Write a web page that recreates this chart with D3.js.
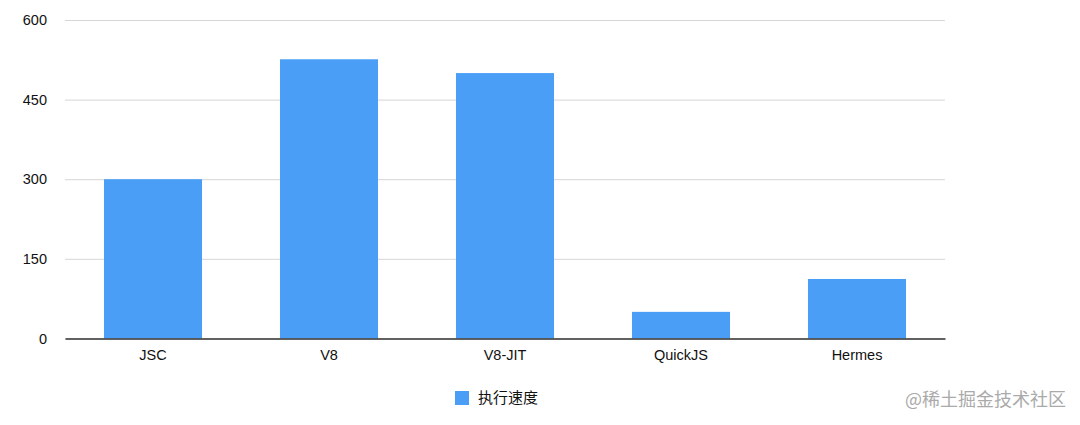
<!DOCTYPE html>
<html>
<head>
<meta charset="utf-8">
<script src="https://cdn.jsdelivr.net/npm/d3@7"></script>
<style>
  body { margin: 0; background: #fff; }
  text { font-family: "Liberation Sans", Arial, sans-serif; }
</style>
</head>
<body>
<div id="chart-area"></div>
<script>
// DATA
var engines = ["JSC", "V8", "V8-JIT", "QuickJS", "Hermes"];
var speeds = [300, 526, 500, 50, 112];
var yTicks = [0, 150, 300, 450, 600];
var seriesName = "执行速度";
var watermark = "@稀土掘金技术社区";

// SETUP
var W = 1080, H = 425;
var margin = { top: 20, right: 135, bottom: 87, left: 65 };
var width = W - margin.left - margin.right;
var height = 338.4 - margin.top;
var barColor = "#4a9ef5";

var svg = d3.select("#chart-area")
	.append("svg")
	.attr("width", W)
	.attr("height", H);

var graph = svg.append("g")
	.attr("transform", "translate(" + margin.left + "," + margin.top + ")");

// SCALES
var x = d3.scaleBand()
	.domain(engines)
	.range([0, width])
	.paddingInner(0.443)
	.paddingOuter(0.2215);

var y = d3.scaleLinear()
	.domain([0, 600])
	.range([height, 0]);

// GRID + Y AXIS
var yAxis = d3.axisLeft(y)
	.tickValues(yTicks)
	.tickSize(-width)
	.tickPadding(18)
	.tickFormat(d3.format("d"));

var yAxisGroup = graph.append("g")
	.attr("class", "y-axis")
	.call(yAxis);
yAxisGroup.select(".domain").remove();
yAxisGroup.selectAll(".tick line")
	.attr("stroke", "#d6d6d6")
	.attr("stroke-width", 1);
yAxisGroup.selectAll(".tick text")
	.attr("font-size", "14.5px")
	.attr("fill", "#111");

// BARS
graph.selectAll("rect.bar")
	.data(engines)
	.enter()
	.append("rect")
	.attr("class", "bar")
	.attr("x", function (d) { return x(d); })
	.attr("width", x.bandwidth())
	.attr("y", function (d, i) { return y(speeds[i]); })
	.attr("height", function (d, i) { return height - y(speeds[i]); })
	.attr("fill", barColor);

// X AXIS
var xAxis = d3.axisBottom(x)
	.tickSize(0)
	.tickPadding(11)
	.tickSizeOuter(0);

var xAxisGroup = graph.append("g")
	.attr("class", "x-axis")
	.attr("transform", "translate(0," + height + ")")
	.call(xAxis);
xAxisGroup.select(".domain")
	.attr("stroke", "#333")
	.attr("stroke-width", 1.5);
xAxisGroup.selectAll(".tick text")
	.attr("font-size", "14.5px")
	.attr("fill", "#111");

// LEGEND
var legend = svg.append("g")
	.attr("transform", "translate(455,391)");
legend.append("rect")
	.attr("width", 14)
	.attr("height", 14)
	.attr("fill", barColor);
legend.append("text")
	.attr("x", 23)
	.attr("y", 7)
	.attr("dy", "0.35em")
	.attr("font-size", "15px")
	.attr("fill", "#111")
	.style("font-family", "'Noto Sans CJK SC', sans-serif")
	.text(seriesName);

// WATERMARK
svg.append("text")
	.attr("x", 1066)
	.attr("y", 400)
	.attr("dy", "0.35em")
	.attr("text-anchor", "end")
	.attr("font-size", "18px")
	.attr("fill", "#aaa")
	.style("font-family", "'Noto Sans CJK SC', sans-serif")
	.text(watermark);
</script>
</body>
</html>
